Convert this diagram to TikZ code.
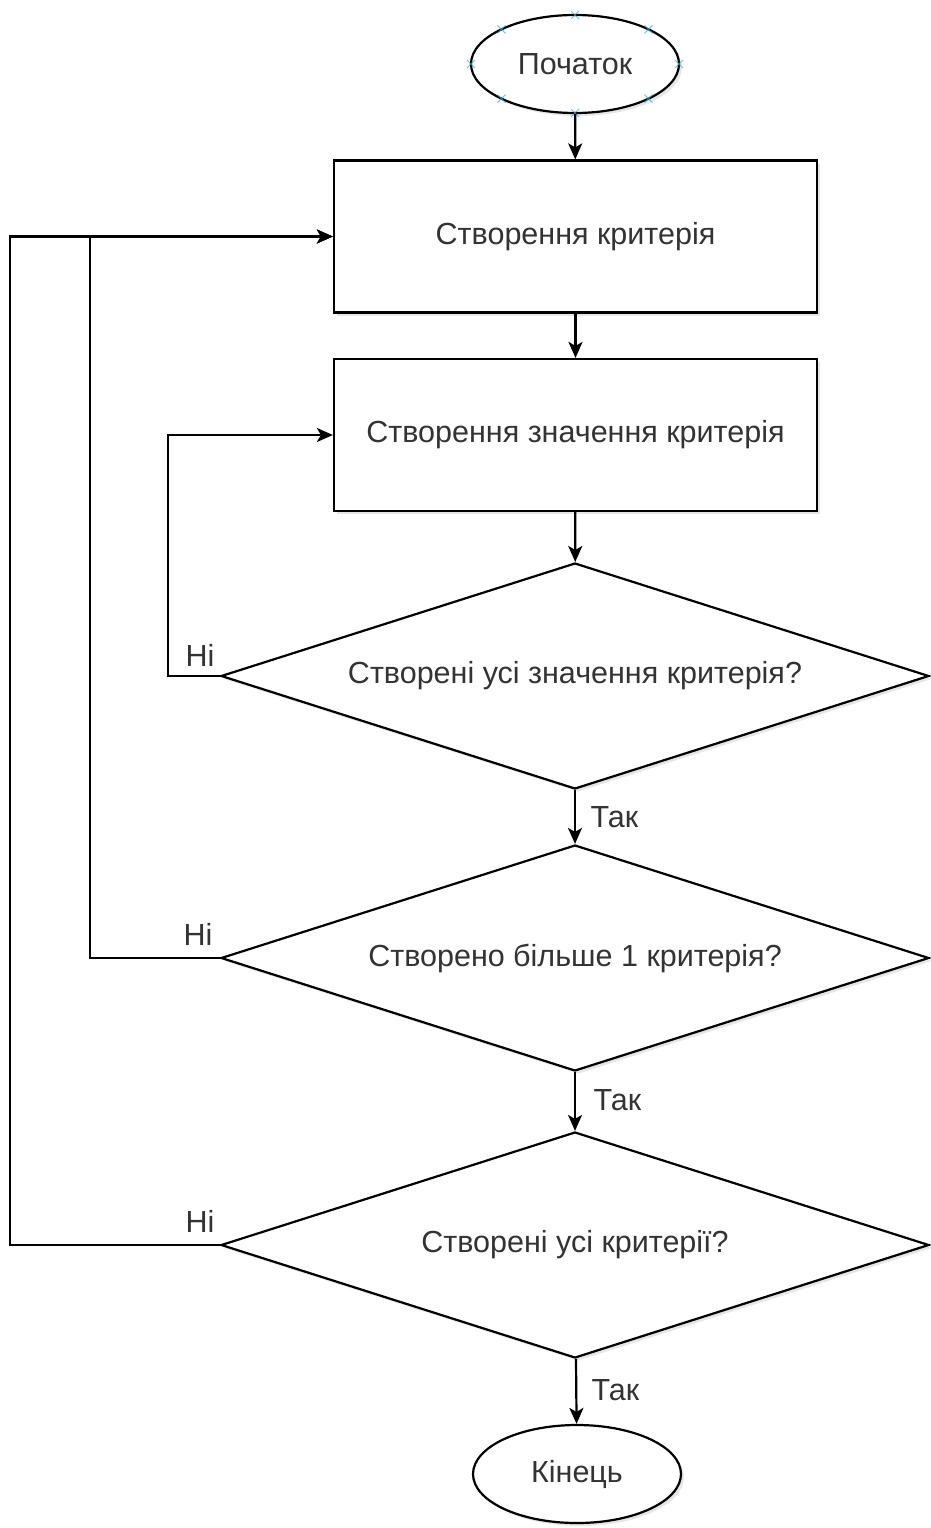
\documentclass[tikz,border=0pt]{standalone}
\usepackage{fontspec}
\setmainfont{Liberation Sans}
\usetikzlibrary{shapes.geometric,arrows.meta,shadows,calc}
\definecolor{handle}{RGB}{60,170,220}
\begin{document}
\begin{tikzpicture}[x=1pt,y=-1pt,
  txt/.style={text=black!80, font=\fontsize{30.5}{34}\selectfont},
  base/.style={txt, draw=black, line width=2.2pt, fill=white,
    drop shadow={opacity=0.2, shadow xshift=3pt, shadow yshift=-3pt}},
  term/.style={base, ellipse, minimum width=208pt, minimum height=98pt, inner sep=0pt},
  proc/.style={base, rectangle, minimum width=483pt, minimum height=152pt},
  dec/.style={base, diamond, aspect=3.13, minimum width=708pt, minimum height=226pt, inner sep=0pt},
  conn/.style={line width=2.2pt, -{Stealth[length=16pt,width=14pt,inset=4pt]}},
  lbl/.style={txt}]
\useasboundingbox (0,0) rectangle (931,1528);

\node[term] (start) at (575,64) {Початок};
\node[proc] (p1) at (575.5,236.5) {Створення критерія};
\node[proc] (p2) at (575.5,435) {Створення значення критерія};
\node[dec] (d1) at (575,676) {Створені усі значення критерія?};
\node[dec] (d2) at (575,958) {Створено більше 1 критерія?};
\node[dec] (d3) at (575,1245) {Створені усі критерії?};
\node[term] (end) at (577,1474) {Кінець};

% selection handles on start ellipse
\foreach \a in {0,45,...,315}{
  \draw[handle, line width=1pt, opacity=0.7]
    ($(start.center)+({104*cos(\a)},{49*sin(\a)})$) ++(-4,-4) -- ++(8,8) ++(0,-8) -- ++(-8,8);
}

\draw[conn] (start) -- (p1);
\draw[conn] (p1) -- (p2);
\draw[conn] (p2) -- (d1);
\draw[conn] (d1) -- (d2);
\draw[conn] (d2) -- (d3);
\draw[conn] (d3) -- (end);

\draw[conn] (d1.west) -- ++(-52,0) |- (p2.west);
\draw[conn] (d2.west) -- ++(-130,0) |- (p1.west);
\draw[conn] (d3.west) -- ++(-210,0) |- (p1.west);

\node[lbl] (no1) at (200,655) {Ні};
\node[lbl] (no2) at (198,934) {Ні};
\node[lbl] (no3) at (200,1221) {Ні};
\node[lbl, anchor=west] (yes1) at (587,817) {Так};
\node[lbl, anchor=west] (yes2) at (590,1100) {Так};
\node[lbl, anchor=west] (yes3) at (588,1390) {Так};
\end{tikzpicture}
\end{document}
